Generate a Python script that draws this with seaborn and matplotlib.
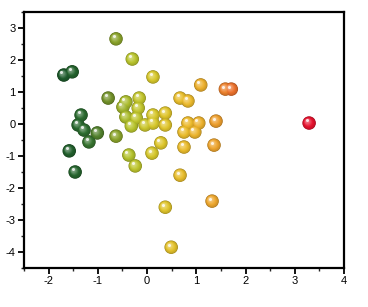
import numpy as np
import pandas as pd
import matplotlib
matplotlib.use("Agg")
import matplotlib.pyplot as plt
import matplotlib.transforms as mtransforms
from matplotlib.colors import LinearSegmentedColormap, Normalize
from matplotlib.ticker import MultipleLocator
import seaborn as sns

# ---- data ----
x_vals = [-0.63, -0.30, -1.69, -1.52, 0.12, 1.09, 1.59, 1.71, 3.29, -0.79,
          -0.49, -0.43, -0.16, -0.18, -0.43, -0.22, -0.32, -0.04, 0.12, 0.12,
          0.37, 0.37, 0.67, 0.83, 0.83, 1.05, 1.40, 0.75, 0.97, 1.36,
          0.75, 0.28, 0.10, -0.37, -0.24, -1.34, -1.40, -1.28, -1.01, -1.18,
          -0.63, -1.58, -1.46, 0.67, 1.32, 0.37, 0.49]
y_vals = [2.66, 2.03, 1.53, 1.63, 1.47, 1.22, 1.09, 1.09, 0.03, 0.81,
          0.53, 0.69, 0.81, 0.50, 0.22, 0.19, -0.06, -0.03, 0.28, 0.03,
          0.34, -0.03, 0.81, 0.72, 0.03, 0.03, 0.09, -0.25, -0.25, -0.66,
          -0.72, -0.59, -0.91, -0.97, -1.31, 0.28, -0.03, -0.19, -0.28, -0.56,
          -0.38, -0.84, -1.50, -1.60, -2.41, -2.60, -3.85]

color_stops = [(-1.70, "#1d5a2b"), (-1.25, "#2e6f30"), (-0.80, "#73922a"),
               (-0.35, "#b6c42d"), (0.20, "#dcc82b"), (0.80, "#ecbb2c"),
               (1.35, "#eea62e"), (1.70, "#ec722c"), (3.30, "#e6122e")]

xticks = [-2, -1, 0, 1, 2, 3, 4]
yticks = [-4, -3, -2, -1, 0, 1, 2, 3]

# ---- style ----
sns.set_theme(style="white")
plt.rcParams["font.family"] = ["Liberation Sans", "DejaVu Sans"]
plt.rcParams["axes.unicode_minus"] = False

df = pd.DataFrame({"x": x_vals, "y": y_vals})

lo, hi = color_stops[0][0], color_stops[-1][0]
cmap = LinearSegmentedColormap.from_list(
    "ball", [((v - lo) / (hi - lo), c) for v, c in color_stops])
norm = Normalize(lo, hi)

fig = plt.figure(figsize=(3.68, 3.07), dpi=100)
ax = fig.add_axes([0.065, 0.127, 0.87, 0.834])

S = 95.0                      # marker area, pt^2
R = np.sqrt(S) / 2            # radius in points

base = np.array([cmap(norm(v))[:3] for v in df["x"]])

# base ball (edge, a bit darker) drawn by seaborn
sns.scatterplot(data=df, x="x", y="y", hue="x", palette=cmap, hue_norm=(lo, hi),
                s=S, linewidth=0, legend=False, ax=ax, zorder=3)
ax.collections[-1].set_facecolor(np.clip(base * 0.72, 0, 1))

# shading layers to fake a sphere
n = 12
for k in range(n):
    t = k / (n - 1)
    r = R * (0.92 - 0.62 * t)
    dx, dy = -0.26 * R * t, 0.26 * R * t
    if t < 0.4:
        cols = base * (0.86 + 0.35 * t)
    else:
        w = (t - 0.4) / 0.6 * 0.35
        cols = base * (1 - w) + w
    tr = mtransforms.offset_copy(ax.transData, fig=fig, x=dx, y=dy, units="points")
    ax.scatter(df["x"], df["y"], s=(2 * r) ** 2, c=np.clip(cols, 0, 1),
               linewidths=0, transform=tr, zorder=4 + k * 0.01)

# specular highlight
tr = mtransforms.offset_copy(ax.transData, fig=fig, x=-0.36 * R, y=0.38 * R, units="points")
ax.scatter(df["x"], df["y"], s=(0.45 * R) ** 2, c="white", alpha=0.8,
           linewidths=0, transform=tr, zorder=5)

ax.set_xlim(-2.5, 4)
ax.set_ylim(-4.5, 3.5)
ax.set_xticks(xticks)
ax.set_yticks(yticks)
ax.xaxis.set_minor_locator(MultipleLocator(0.5))
ax.yaxis.set_minor_locator(MultipleLocator(0.5))
ax.set_xticklabels([str(v) for v in xticks])
ax.set_yticklabels([str(v) for v in yticks])
ax.tick_params(axis="both", which="major", direction="out", length=4, width=1.3,
               labelsize=8, pad=2, colors="black", bottom=True, left=True,
               top=False, right=False)
ax.tick_params(axis="both", which="minor", direction="out", length=2, width=1.0,
               bottom=True, left=True, top=False, right=False)
ax.set_xlabel("")
ax.set_ylabel("")
for side, sp in ax.spines.items():
    sp.set_visible(True)
    sp.set_color("black")
    sp.set_linewidth(1.6)

fig.savefig("out.png", dpi=100)
